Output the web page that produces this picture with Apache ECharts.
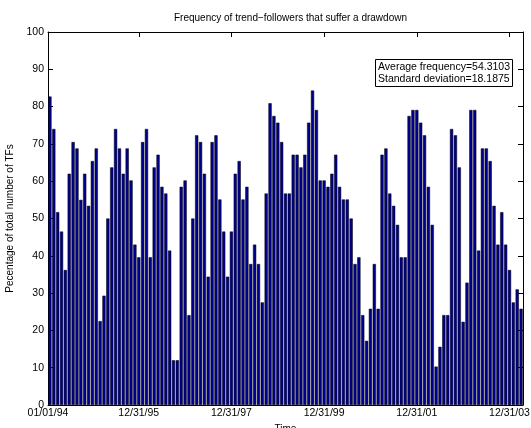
<!DOCTYPE html>
<html><head><meta charset="utf-8">
<script src="https://cdn.jsdelivr.net/npm/echarts@6/dist/echarts.min.js"></script>
<style>html,body{margin:0;padding:0;background:#fff}#c{width:531px;height:428px}</style>
</head><body><div id="c"></div>
<script>
// Monthly percentage values, Jan 1994 .. Mar 2004
const values = [
  82.7, 74.0, 51.7, 46.5, 36.2, 62.0, 70.5, 68.8, 55.0, 62.0,
  53.4, 65.4, 68.8, 22.5, 29.3, 50.0, 63.7, 74.0, 68.8, 62.0,
  68.8, 60.2, 43.0, 39.6, 70.5, 74.0, 39.6, 63.7, 67.1, 58.5,
  56.7, 41.4, 12.0, 12.0, 58.5, 60.2, 24.1, 50.0, 72.3, 70.5,
  62.0, 34.4, 70.5, 72.3, 55.1, 46.5, 34.4, 46.5, 62.0, 65.4,
  55.1, 58.5, 37.8, 43.0, 37.8, 27.5, 56.7, 80.9, 77.5, 75.7,
  70.5, 56.7, 56.7, 67.1, 67.1, 63.7, 67.1, 75.7, 84.3, 79.1,
  60.2, 60.2, 58.5, 62.0, 67.1, 58.5, 55.1, 55.1, 50.0, 37.8,
  39.6, 24.1, 17.2, 25.8, 37.8, 25.8, 67.1, 68.8, 56.7, 53.4,
  48.3, 39.6, 39.6, 77.5, 79.1, 79.1, 75.7, 72.3, 58.5, 48.3,
  10.3, 15.6, 24.1, 24.1, 74.0, 72.3, 63.7, 22.3, 32.8, 79.1,
  79.1, 41.4, 68.8, 68.8, 65.4, 53.4, 43.0, 51.7, 43.0, 36.2,
  27.5, 31.0, 25.8
];
const tickPositions = [-0.5, 23, 47, 71, 95, 119];
const tickLabels = ['01/01/94', '12/31/95', '12/31/97', '12/31/99', '12/31/01', '12/31/03'];
const titleText = 'Frequency of trend\u2212followers that suffer a drawdown';
const yName = 'Pecentage of total number of TFs';
const xName = 'Time';
const statLines = ['Average frequency=54.3103', 'Standard deviation=18.1875'];

const font = '"Liberation Sans", Arial, Helvetica, sans-serif';
const chart = echarts.init(document.getElementById('c'), null, {renderer: 'canvas'});

function labelFor(v) {
  let best = 0, bd = Infinity;
  tickPositions.forEach((p, i) => { const d = Math.abs(p - v); if (d < bd) { bd = d; best = i; } });
  return bd < 0.01 ? tickLabels[best] : '';
}

const xCommon = {
  type: 'value', min: -0.5, max: values.length - 0.5,
  splitLine: {show: false},
  axisLine: {show: true, onZero: false, lineStyle: {color: '#000', width: 1}},
  axisTick: {show: true, inside: true, length: 5, customValues: tickPositions, lineStyle: {color: '#000', width: 1}}
};
const yCommon = {
  type: 'value', min: 0, max: 100, interval: 10,
  splitLine: {show: false},
  axisLine: {show: true, onZero: false, lineStyle: {color: '#000', width: 1}},
  axisTick: {show: true, inside: true, length: 5, lineStyle: {color: '#000', width: 1}}
};

chart.setOption({
  animation: false,
  backgroundColor: '#fff',
  title: {
    text: titleText, left: 285.5, top: 8, textAlign: 'center',
    textStyle: {fontFamily: font, fontSize: 10, fontWeight: 'normal', color: '#000'}
  },
  grid: {left: 48, right: 8, top: 32, bottom: 23, containLabel: false, outerBoundsMode: 'none'},
  xAxis: [
    Object.assign({}, xCommon, {
      position: 'bottom',
      name: xName, nameLocation: 'middle', nameGap: 16,
      nameTextStyle: {fontFamily: font, fontSize: 10, color: '#000'},
      axisLabel: {show: true, customValues: tickPositions, margin: 3, formatter: labelFor,
        fontFamily: font, fontSize: 10.5, color: '#000'}
    }),
    Object.assign({}, xCommon, {position: 'top', axisLabel: {show: false}})
  ],
  yAxis: [
    Object.assign({}, yCommon, {
      position: 'left',
      name: yName, nameLocation: 'middle', nameGap: 27,
      nameTextStyle: {fontFamily: font, fontSize: 10, color: '#000'},
      axisLabel: {show: true, margin: 4, fontFamily: font, fontSize: 10.5, color: '#000'}
    }),
    Object.assign({}, yCommon, {position: 'right', axisLabel: {show: false}})
  ],
  series: [{
    type: 'bar', xAxisIndex: 0, yAxisIndex: 0,
    data: values.map((v, i) => [i, v]),
    barWidth: 3.2,
    itemStyle: {color: '#00008f', borderColor: '#000', borderWidth: 0.5},
    emphasis: {disabled: true}
  }],
  graphic: [{
    type: 'group', left: 375, top: 59,
    children: [
      {type: 'rect', shape: {x: 0.5, y: 0.5, width: 137, height: 27},
        style: {fill: '#fff', stroke: '#000', lineWidth: 1}},
      {type: 'text', x: 3, y: 2.5,
        style: {text: statLines.join('\n'), font: '10.5px ' + font, fill: '#000', lineHeight: 12}}
    ]
  }]
});
</script></body></html>
